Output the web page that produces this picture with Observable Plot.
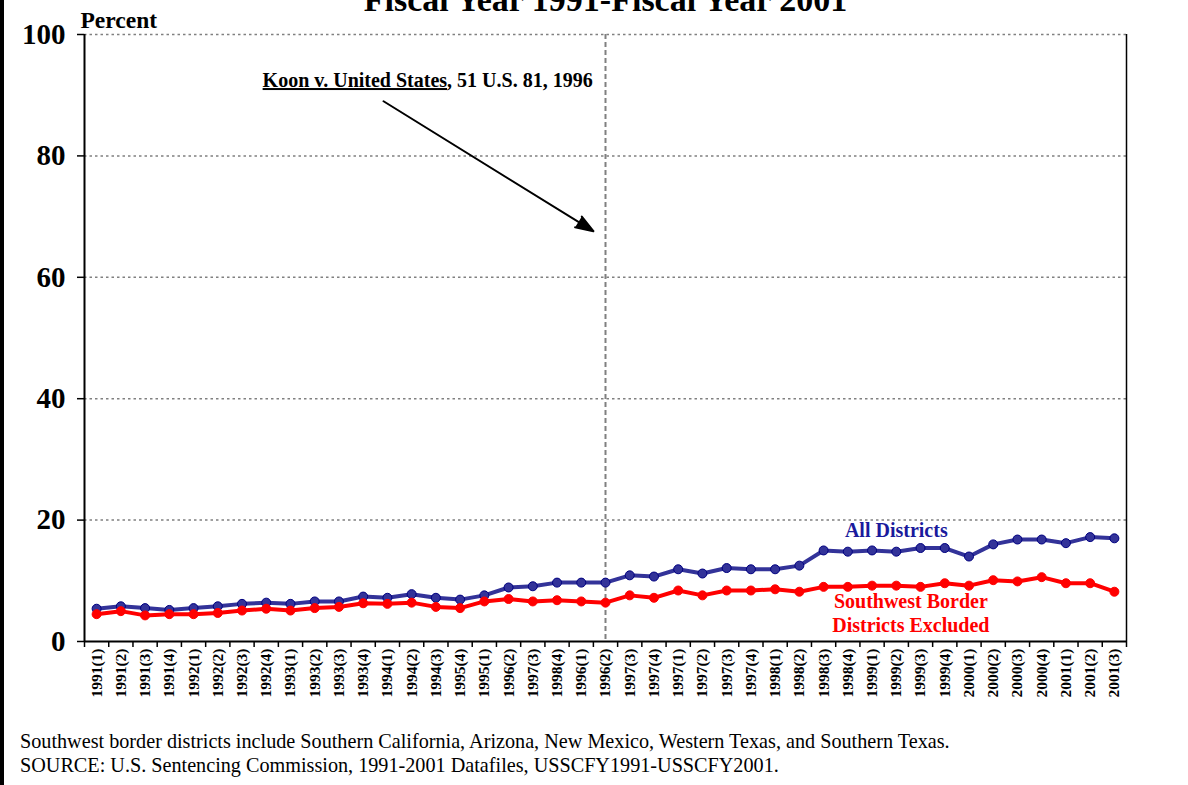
<!DOCTYPE html>
<html>
<head>
<meta charset="utf-8">
<script src="https://cdn.jsdelivr.net/npm/d3@7"></script>
<script src="https://cdn.jsdelivr.net/npm/@observablehq/plot@0.6"></script>
<style>
  html, body { margin: 0; padding: 0; background: white; }
  #wrap { position: relative; width: 1188px; height: 785px; overflow: hidden; background: white; font-family: 'Liberation Serif', 'Times New Roman', serif; }
  #border { position: absolute; left: 0; top: 0; width: 4px; height: 785px; background: black; }
  #chart { position: absolute; left: 0; top: 0; }
  #foot { position: absolute; left: 20px; top: 729px; font-size: 20.2px; line-height: 24px; color: black; }
</style>
</head>
<body>
<div id="wrap">
  <div id="chart"></div>
  <div id="border"></div>
  <div id="foot">
    <div>Southwest border districts include Southern California, Arizona, New Mexico, Western Texas, and Southern Texas.</div>
    <div>SOURCE: U.S. Sentencing Commission, 1991-2001 Datafiles, USSCFY1991-USSCFY2001.</div>
  </div>
</div>
<script>
const periodLabels = [
  "1991(1)","1991(2)","1991(3)","1991(4)",
  "1992(1)","1992(2)","1992(3)","1992(4)",
  "1993(1)","1993(2)","1993(3)","1993(4)",
  "1994(1)","1994(2)","1994(3)","1995(4)",
  "1995(1)","1996(2)","1997(3)","1998(4)",
  "1996(1)","1996(2)","1997(3)","1997(4)",
  "1997(1)","1997(2)","1997(3)","1997(4)",
  "1998(1)","1998(2)","1998(3)","1998(4)",
  "1999(1)","1999(2)","1999(3)","1999(4)",
  "2000(1)","2000(2)","2000(3)","2000(4)",
  "2001(1)","2001(2)","2001(3)"
];
const allDistricts = [
  5.4,5.8,5.5,5.2,5.5,5.8,6.2,6.4,6.2,6.6,6.6,7.4,7.2,7.8,7.2,6.9,
  7.6,8.9,9.1,9.7,9.7,9.7,10.9,10.7,11.9,11.2,12.1,11.9,11.9,12.5,
  15.0,14.8,15.0,14.8,15.4,15.4,14.0,16.0,16.8,16.8,16.2,17.2,17.0
];
const borderExcluded = [
  4.5,5.0,4.3,4.5,4.5,4.7,5.1,5.4,5.1,5.5,5.7,6.3,6.2,6.4,5.7,5.5,
  6.6,7.0,6.6,6.8,6.6,6.4,7.6,7.2,8.4,7.6,8.4,8.4,8.6,8.2,
  9.0,9.0,9.2,9.2,9.0,9.6,9.2,10.1,9.9,10.6,9.6,9.6,8.2
];
const yTicks = [0, 20, 40, 60, 80, 100];
const gridValues = [20, 40, 60, 80, 100];
const dividerIndex = [21];
const titleText = ["Fiscal Year 1991-Fiscal Year 2001"];
const yTitle = ["Percent"];
const koonNote = [{label: "Koon v. United States, 51 U.S. 81, 1996", x: 6.85, y: 92.4}];
const koonArrow = [{x1: 11.84, y1: 89.0, x2: 20.5, y2: 67.6}];
const seriesLabels = [
  {label: "All Districts", x: 33.0, y: 18.3, color: "#1a1a9c"},
  {label: "Southwest Border", x: 33.6, y: 6.6, color: "#ff0000"},
  {label: "Districts Excluded", x: 33.6, y: 2.6, color: "#ff0000"}
];

const rows = periodLabels.map((p, i) => ({i, p, all: allDistricts[i], sw: borderExcluded[i]}));
const idx = d3.range(periodLabels.length);
const bounds = d3.range(-0.5, periodLabels.length, 1);
const font = "'Liberation Serif', 'Times New Roman', serif";

const chart = Plot.plot({
  width: 1188,
  height: 720,
  marginLeft: 84,
  marginRight: 62,
  marginTop: 34,
  marginBottom: 79,
  x: {domain: [-0.5, periodLabels.length - 0.5], label: null},
  y: {domain: [0, 100], label: null},
  style: {fontFamily: font, background: "white", color: "black", overflow: "visible"},
  marks: [
    Plot.ruleY(gridValues, {stroke: "#808080", strokeWidth: 1.5, strokeDasharray: "2.5,3"}),
    Plot.ruleX(dividerIndex, {stroke: "#808080", strokeWidth: 2, strokeDasharray: "5,3"}),
    Plot.ruleX([bounds[0]], {stroke: "black", strokeWidth: 2}),
    Plot.ruleX([bounds[bounds.length - 1]], {stroke: "black", strokeWidth: 1.5}),
    Plot.ruleY([0], {stroke: "black", strokeWidth: 2}),
    Plot.axisY({ticks: yTicks, tickSize: 7, tickPadding: 12, fontSize: 29, fontWeight: "bold", stroke: "black", strokeWidth: 1.5, tickFormat: d => String(d), label: null}),
    Plot.axisX({ticks: bounds, tickSize: 6, stroke: "black", strokeWidth: 1.5, tickFormat: () => "", label: null}),
    Plot.axisX({ticks: idx, tickSize: 0, tickPadding: 7, tickRotate: -90, fontSize: 15.5, fontWeight: "bold", tickFormat: i => periodLabels[i], label: null}),
    Plot.line(rows, {x: "i", y: "all", stroke: "#333399", strokeWidth: 4}),
    Plot.dot(rows, {x: "i", y: "all", r: 4.5, fill: "#333399", stroke: "#000080", strokeWidth: 1}),
    Plot.line(rows, {x: "i", y: "sw", stroke: "#ff0000", strokeWidth: 4}),
    Plot.dot(rows, {x: "i", y: "sw", r: 4.5, fill: "#ff0000", stroke: "#ff0000", strokeWidth: 1}),
    Plot.text(seriesLabels, {x: "x", y: "y", text: "label", fill: "color", fontSize: 20, fontWeight: "bold", lineAnchor: "middle"}),
    Plot.text(koonNote, {x: "x", y: "y", text: "label", textAnchor: "start", fontSize: 20, fontWeight: "bold", lineAnchor: "middle", fill: "black"}),
    Plot.arrow(koonArrow, {x1: "x1", y1: "y1", x2: "x2", y2: "y2", stroke: "black", strokeWidth: 2, headLength: 14, headAngle: 40}),
    Plot.text(titleText, {text: d => d, frameAnchor: "top", dy: -24, lineAnchor: "bottom", fontSize: 34, fontWeight: "bold", fill: "black"}),
    Plot.text(yTitle, {text: d => d, frameAnchor: "top-left", dx: -4, dy: -7, textAnchor: "start", lineAnchor: "bottom", fontSize: 23.5, fontWeight: "bold", fill: "black"})
  ]
});

// underline the case name
chart.querySelectorAll("text").forEach(t => {
  if (t.textContent.startsWith("Koon")) {
    const full = t.textContent;
    const head = "Koon v. United States";
    t.textContent = "";
    const ns = "http://www.w3.org/2000/svg";
    const a = document.createElementNS(ns, "tspan");
    a.setAttribute("text-decoration", "underline");
    a.style.textDecoration = "underline";
    a.textContent = head;
    t.appendChild(a);
    t.appendChild(document.createTextNode(full.slice(head.length)));
  }
});
// filled arrowhead
chart.querySelectorAll('g[aria-label="arrow"] path').forEach(p => {
  p.style.fill = "black";
  p.style.strokeLinejoin = "miter";
});

document.getElementById("chart").appendChild(chart);
</script>
</body>
</html>
